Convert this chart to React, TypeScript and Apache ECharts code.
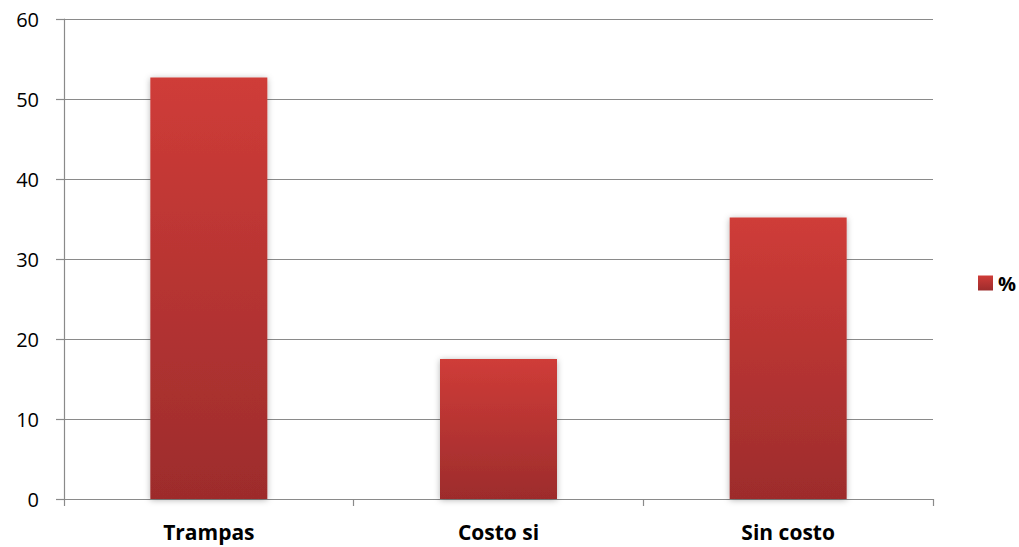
import React, { useEffect, useRef } from "react";
import * as echarts from "echarts";

const categories = ["Trampas", "Costo si", "Sin costo"];
const values = [52.7, 17.5, 35.2];
const seriesName = "%";

export default function App() {
  const ref = useRef<HTMLDivElement>(null);
  useEffect(() => {
    if (!ref.current) return;
    const chart = echarts.init(ref.current, undefined, { renderer: "svg" });
    const grad = new echarts.graphic.LinearGradient(0, 0, 0, 1, [
      { offset: 0, color: "#cf3c38" },
      { offset: 1, color: "#9d2c2c" },
    ]);
    chart.setOption({
      animation: false,
      backgroundColor: "#ffffff",
      textStyle: { fontFamily: "Open Sans" },
      grid: { left: 64, right: 86, top: 19, bottom: 48 },
      legend: {
        data: [seriesName],
        orient: "vertical",
        left: 973,
        top: 268,
        icon: "rect",
        itemWidth: 15,
        itemHeight: 15,
        itemGap: 4,
        textStyle: { fontWeight: "bold", fontSize: 20, color: "#000", fontFamily: "Open Sans" },
      },
      xAxis: {
        type: "category",
        data: categories,
        boundaryGap: true,
        axisLine: { lineStyle: { color: "#8a8a8a", width: 1.2 } },
        axisTick: { show: true, length: 7, lineStyle: { color: "#8a8a8a", width: 1.2 } },
        axisLabel: { color: "#000", fontSize: 21, fontWeight: "bold", margin: 22, fontFamily: "Open Sans" },
      },
      yAxis: {
        type: "value",
        min: 0,
        max: 60,
        interval: 10,
        axisLine: { show: true, lineStyle: { color: "#8a8a8a", width: 1.2 } },
        axisTick: { show: true, length: 8, lineStyle: { color: "#8a8a8a", width: 1.2 } },
        axisLabel: { color: "#000", fontSize: 20, margin: 25, fontFamily: "Open Sans" },
        splitLine: { show: true, lineStyle: { color: "#8a8a8a", width: 1.2 } },
      },
      series: [
        {
          name: seriesName,
          type: "bar",
          data: values,
          barWidth: 117,
          itemStyle: {
            color: grad,
            shadowBlur: 6,
            shadowColor: "rgba(0,0,0,0.3)",
            shadowOffsetY: 1,
          },
        },
      ],
    });
    return () => chart.dispose();
  }, []);
  return (
    <div
      ref={ref}
      style={{ position: "fixed", left: 0, top: 0, width: 1019, height: 547 }}
    />
  );
}
